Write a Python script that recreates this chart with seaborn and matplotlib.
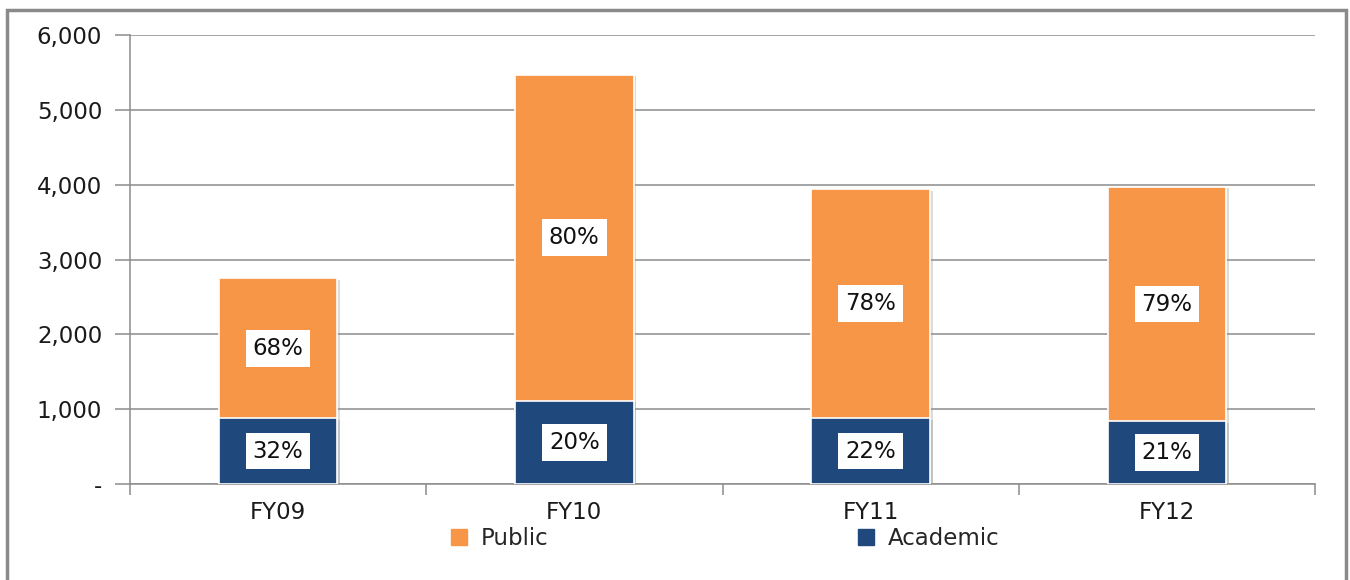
import matplotlib
matplotlib.use("Agg")
import matplotlib.pyplot as plt
import matplotlib.patches as mpatches
import matplotlib.patheffects as pe
import seaborn as sns
import pandas as pd
import numpy as np

categories = ["FY09", "FY10", "FY11", "FY12"]
academic = [880, 1110, 880, 840]
public = [1870, 4360, 3060, 3130]
yticks = [0, 1000, 2000, 3000, 4000, 5000, 6000]

ORANGE = "#F79646"
BLUE = "#1F497D"
GRID = "#8C8C8C"
FS = 16.5

sns.set_theme(style="white")
plt.rcParams["font.family"] = ["DejaVu Sans"]

totals = [a + p for a, p in zip(academic, public)]
df = pd.DataFrame({"cat": categories, "academic": academic, "public": public, "total": totals})

fig = plt.figure(figsize=(13.5, 5.8), dpi=100)
ax = fig.add_axes([130 / 1350, 1 - 484 / 580, (1315 - 130) / 1350, (484 - 35) / 580])

shadow = [pe.SimplePatchShadow(offset=(2, -1), shadow_rgbFace="#999999", alpha=0.35), pe.Normal()]
sns.barplot(data=df, x="cat", y="total", color=ORANGE, width=0.4, saturation=1,
            edgecolor="white", linewidth=1.2, ax=ax, zorder=3)
for p in list(ax.patches):
    p.set_path_effects(shadow)
n_first = len(ax.patches)
sns.barplot(data=df, x="cat", y="academic", color=BLUE, width=0.4, saturation=1,
            edgecolor="white", linewidth=1.2, ax=ax, zorder=4)
for p in ax.patches[n_first:]:
    p.set_path_effects(shadow)

for i, (a, p, t) in enumerate(zip(academic, public, totals)):
    pa = round(100 * a / t)
    pp = 100 - pa
    for yv, txt in ((a / 2, f"{pa}%"), (a + p / 2, f"{pp}%")):
        ax.text(i, yv, txt, ha="center", va="center", fontsize=FS, color="#111111", zorder=6,
                bbox=dict(boxstyle="square,pad=0.3", facecolor="white", edgecolor="none"))

ax.set_ylim(0, 6000)
ax.set_xlim(-0.5, 3.5)
ax.set_yticks(yticks)
ax.set_yticklabels(["-" if v == 0 else f"{v:,}" for v in yticks], fontsize=FS, color="#1a1a1a")
ax.yaxis.grid(True, color=GRID, linewidth=1.1, zorder=0)
ax.set_axisbelow(True)
ax.tick_params(axis="y", which="major", length=11, color=GRID, width=1.1, pad=9, left=True)
ax.set_xticks(range(len(categories)))
ax.set_xticklabels(categories, fontsize=FS, color="#1a1a1a")
ax.set_xticks(np.arange(-0.5, len(categories), 1.0), minor=True)
ax.tick_params(axis="x", which="major", length=0, pad=12)
ax.tick_params(axis="x", which="minor", length=8, color=GRID, width=1.1, bottom=True)
ax.set_xlabel("")
ax.set_ylabel("")
for s in ["top", "right"]:
    ax.spines[s].set_visible(False)
for s in ["left", "bottom"]:
    ax.spines[s].set_color(GRID)
    ax.spines[s].set_linewidth(1.1)

handles = [mpatches.Patch(color=ORANGE, label="Public"), mpatches.Patch(color=BLUE, label="Academic")]
fig.legend(handles=handles, loc="center", bbox_to_anchor=(0.537, 0.072), ncol=2, frameon=False,
           fontsize=FS, handlelength=0.7, handleheight=0.7, handletextpad=0.6, columnspacing=13.5)

border = mpatches.Rectangle((7 / 1350, -0.05), (1346 - 7) / 1350, 1.05 - 10 / 580,
                            transform=fig.transFigure, fill=False, edgecolor="#8A8A8A", linewidth=2.5)
fig.add_artist(border)

fig.savefig("out.png", dpi=100)
